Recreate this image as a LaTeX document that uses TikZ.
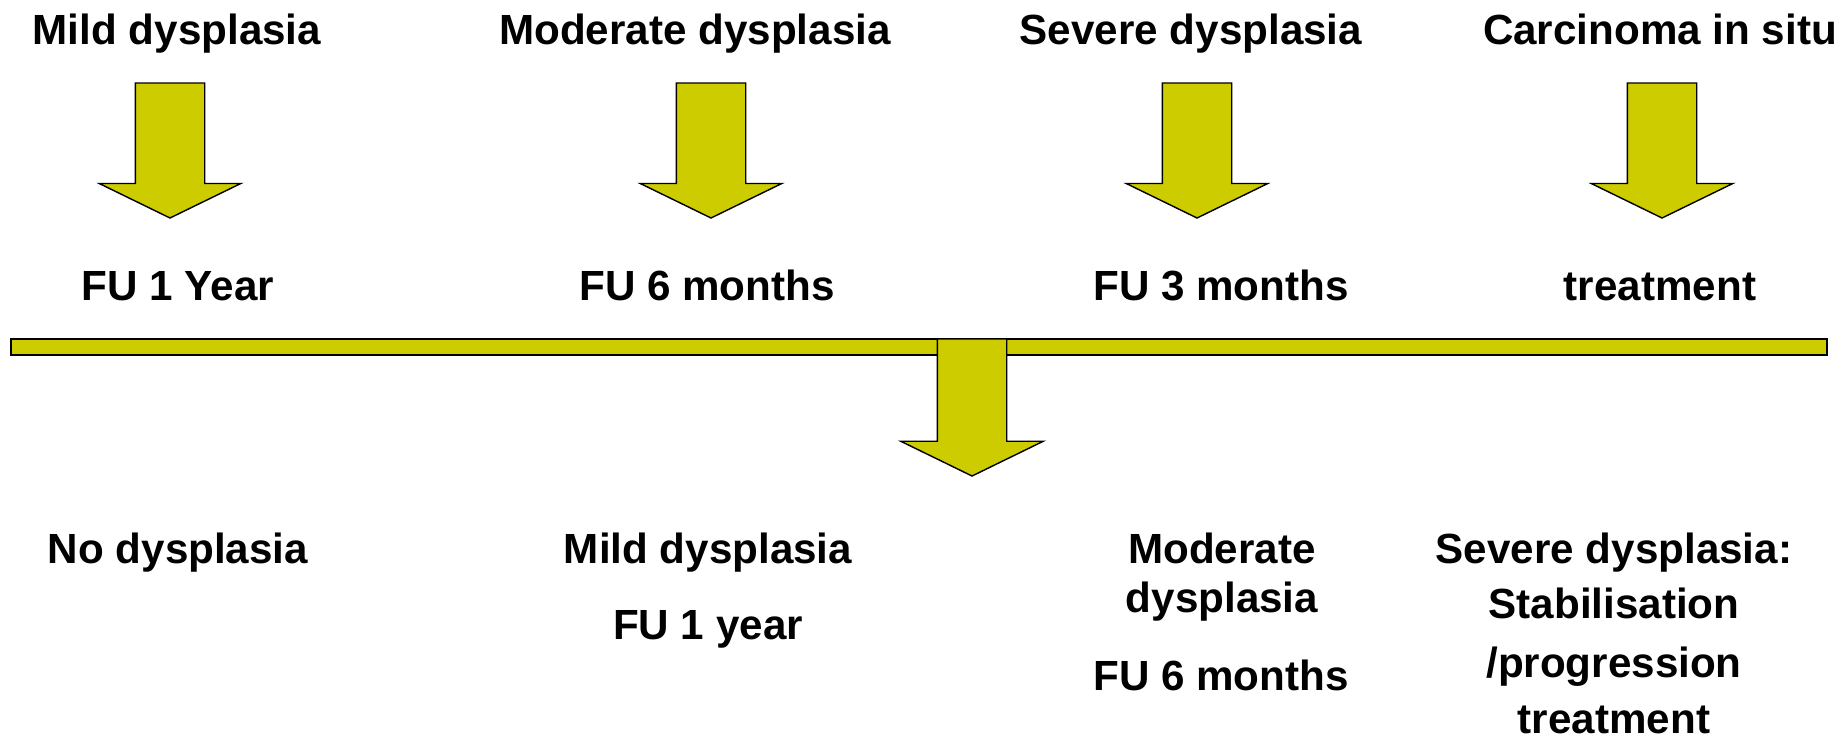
\documentclass[tikz,border=0pt]{standalone}
\usepackage{fontspec}
\setmainfont{Liberation Sans}
\usepackage{tikz}
\usetikzlibrary{shapes.arrows}
\usepackage{xcolor}
\definecolor{arrowyellow}{HTML}{CCCC00}

\begin{document}
\begin{tikzpicture}[
      x=0.1mm, y=-0.1mm,
      fuarrow/.style={single arrow, draw=black, fill=arrowyellow, line width=0.4pt, rotate=-90, anchor=tail, inner xsep=0pt, inner ysep=3.4mm, outer sep=0pt, text height=0pt, text depth=0pt, minimum height=13.5mm, minimum width=14mm, single arrow head extend=3.6mm, single arrow tip angle=128},
      timeline/.style={rectangle, draw=black, fill=arrowyellow, line width=0.4pt, anchor=north west, inner sep=0pt, outer sep=0pt, minimum width=181.6mm, minimum height=1.6mm},
      lbl/.style={anchor=base, inner sep=0pt, font=\fontsize{12pt}{14pt}\selectfont\bfseries},
    ]
    \useasboundingbox (0,0) rectangle (1841,738);

    \node[lbl] (mild) at (177,44) {Mild dysplasia};
    \node[lbl] (mod) at (695,44) {Moderate dysplasia};
    \node[lbl] (sev) at (1191,44) {Severe dysplasia};
    \node[lbl] (cis) at (1660,44) {Carcinoma in situ};

    \node[fuarrow] (a1) at (170,83) {};
    \node[fuarrow] (a2) at (711,83) {};
    \node[fuarrow] (a3) at (1197,83) {};
    \node[fuarrow] (a4) at (1662,83) {};

    \node[lbl] (fu1) at (178,300) {FU 1 Year};
    \node[lbl] (fu2) at (707,300) {FU 6 months};
    \node[lbl] (fu3) at (1221,300) {FU 3 months};
    \node[lbl] (fu4) at (1660,300) {treatment};

    \node[timeline] (line) at (11,339) {};
    \node[fuarrow, minimum height=13.7mm, minimum width=14.1mm, single arrow head extend=3.65mm] (down) at (972,339) {};

    \node[lbl] (out1) at (178,563) {No dysplasia};
    \node[lbl] (out2) at (708,563) {Mild dysplasia};
    \node[lbl] (out2b) at (708,639) {FU 1 year};
    \node[lbl] (out3) at (1222,563) {Moderate};
    \node[lbl] (out3b) at (1222,612) {dysplasia};
    \node[lbl] (out3c) at (1221,690) {FU 6 months};
    \node[lbl] (out4) at (1614,563) {Severe dysplasia:};
    \node[lbl] (out4b) at (1614,618) {Stabilisation};
    \node[lbl] (out4c) at (1614,677) {/progression};
    \node[lbl] (out4d) at (1614,733) {treatment};
  \end{tikzpicture}
\end{document}
